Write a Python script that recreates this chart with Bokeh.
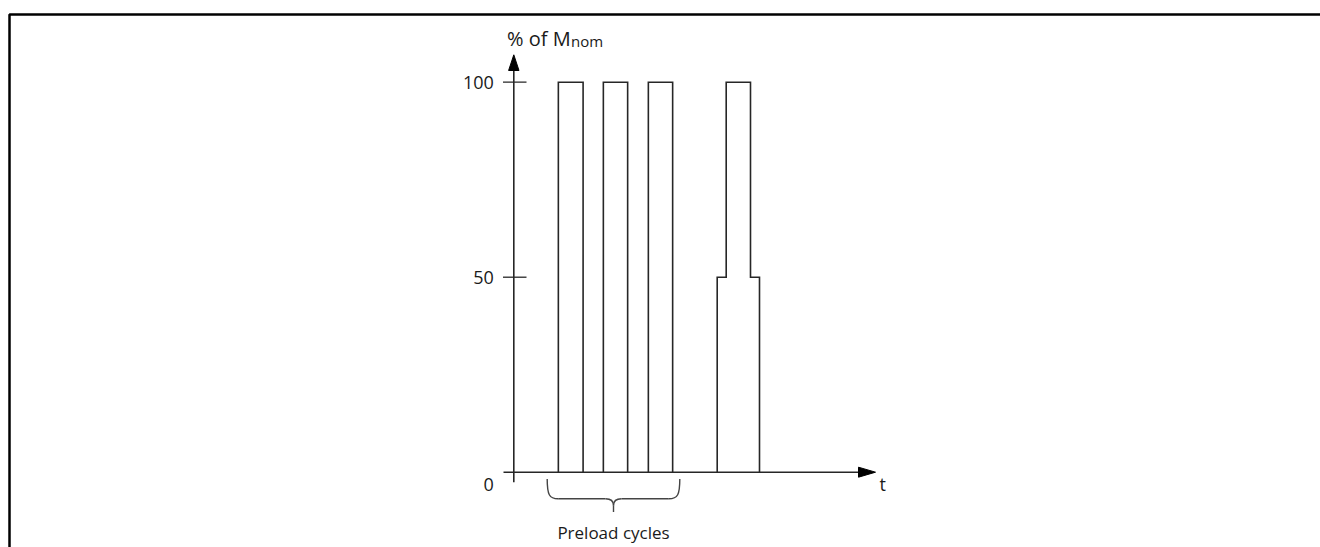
from bokeh.plotting import figure
from bokeh.models import Range1d
from bokeh.embed import file_html
from bokeh.resources import INLINE
from bokeh.core.properties import value

# ---------------- data ----------------
preload_start = [9.9, 19.9, 29.9]      # time units
preload_end = [15.4, 25.3, 35.3]
preload_level = 100                    # % of Mnom
final_times = [45.2, 47.2, 52.6, 54.6]  # step edges of last test pulse
final_levels = [50, 100, 50]
tick_values = [50, 100]
tick_labels = ["50", "100"]
origin_label = "0"
x_label = "t"
y_label_main = "% of M"
y_label_sub = "nom"
brace_label = "Preload cycles"

# ---------------- geometry helpers ----------------
W, H = 1320, 547
KX, KY = 4.5, 3.9          # px per unit
OX, OY = 513.3, 471.7      # canvas position of the origin
TS = -6.5 / 18             # text baseline correction per px of font size

def tx(px):
    return (px - OX) / KX

def vy(py):
    return (OY - py) / KY

p = figure(width=W, height=H, output_backend="svg", toolbar_location=None,
           x_range=Range1d(-OX / KX, (W - OX) / KX),
           y_range=Range1d(-(H - OY) / KY, OY / KY),
           x_axis_location=None, y_axis_location=None,
           min_border=0, min_border_left=0, min_border_right=0,
           min_border_top=0, min_border_bottom=0)
p.outline_line_color = None
p.xgrid.visible = False
p.ygrid.visible = False
p.background_fill_color = "white"
p.border_fill_color = "white"

LC = "#262626"
LW = 1.6

# frame border (top and left)
xb = tx(9)
yt = vy(14)
p.line([xb, xb, p.x_range.end + 5], [p.y_range.start - 5, yt, yt],
       line_color="black", line_width=2.5)

# pulses
xs, ys = [], []
for s, e in zip(preload_start, preload_end):
    xs.append([s, s, e, e])
    ys.append([0, preload_level, preload_level, 0])
a, b, c, d = final_times
l1, l2, l3 = final_levels
xs.append([a, a, b, b, c, c, d, d])
ys.append([0, l1, l1, l2, l2, l3, l3, 0])
p.multi_line(xs, ys, line_color=LC, line_width=LW, line_join="miter")

# axes
y_bottom = vy(481.7)
y_tip = vy(54.3)
y_head_base = vy(70)
hw = 5.2 / KX
p.line([0, 0], [y_bottom, y_head_base + 0.5], line_color=LC, line_width=LW)
p.patch([-hw, hw, 0], [y_head_base, y_head_base, y_tip], color="black")

x_left = tx(503)
x_tip = tx(875)
x_head_base = tx(858)
hh = 5.0 / KY
p.line([x_left, x_head_base + 0.5], [0, 0], line_color=LC, line_width=LW)
p.patch([x_head_base, x_head_base, x_tip], [-hh, hh, 0], color="black")

# ticks
t0, t1 = tx(502.5), tx(526)
p.multi_line([[t0, t1] for _ in tick_values], [[v, v] for v in tick_values],
             line_color=LC, line_width=1.3)

FONT = value("Open Sans")
TC = "#1a1a1a"
p.text(x=[0] * len(tick_values), y=tick_values, text=tick_labels,
       x_offset=-20, y_offset=6.5 + 18 * TS, text_align="right", text_baseline="alphabetic",
       text_font=FONT, text_font_size="18px", text_color=TC)
p.text(x=[0], y=[0], text=[origin_label], x_offset=-20, y_offset=18.5 + 18 * TS,
       text_align="right", text_baseline="alphabetic",
       text_font=FONT, text_font_size="18px", text_color=TC)
p.text(x=[x_tip], y=[0], text=[x_label], x_offset=4, y_offset=18.5 + 18 * TS,
       text_align="left", text_baseline="alphabetic",
       text_font=FONT, text_font_size="18px", text_color=TC)

# y label
p.text(x=[tx(506.5)], y=[vy(45.7)], text=[y_label_main], y_offset=20 * TS, text_align="left",
       text_baseline="alphabetic", text_font=FONT, text_font_size="20px",
       text_color=TC)
p.text(x=[tx(570.5)], y=[vy(45.7)], text=[y_label_sub], y_offset=15 * TS, text_align="left",
       text_baseline="alphabetic", text_font=FONT, text_font_size="15px",
       text_color=TC)

# brace under the preload cycles
bl = tx(546.7)
br = tx(679.3)
bm = (bl + br) / 2
y0 = vy(478.5)
y1 = vy(498.3)
y2 = vy(511.5)
dx1 = 11 / KX
dx2 = 8 / KX
BC = "#444444"
p.bezier(x0=[bl, br], y0=[y0, y0], x1=[bl + dx1, br - dx1], y1=[y1, y1],
         cx0=[bl, br], cy0=[vy(494), vy(494)], cx1=[bl + 2 / KX, br - 2 / KX], cy1=[y1, y1],
         line_color=BC, line_width=1.4)
p.multi_line([[bl + dx1, bm - dx2], [bm + dx2, br - dx1]], [[y1, y1], [y1, y1]],
             line_color=BC, line_width=1.4)
ym = vy(505)
p.bezier(x0=[bm - dx2, bm + dx2], y0=[y1, y1], x1=[bm, bm], y1=[ym, ym],
         cx0=[bm - 2 / KX, bm + 2 / KX], cy0=[y1, y1], cx1=[bm, bm], cy1=[vy(501), vy(501)],
         line_color=BC, line_width=1.4)
p.line([bm, bm], [ym, y2], line_color=BC, line_width=1.4)

p.text(x=[bm], y=[vy(538.3)], text=[brace_label], y_offset=17 * TS, text_align="center",
       text_baseline="alphabetic", text_font=FONT,
       text_font_size="17px", text_color=TC)

open("out.html", "w").write(file_html(p, INLINE))
